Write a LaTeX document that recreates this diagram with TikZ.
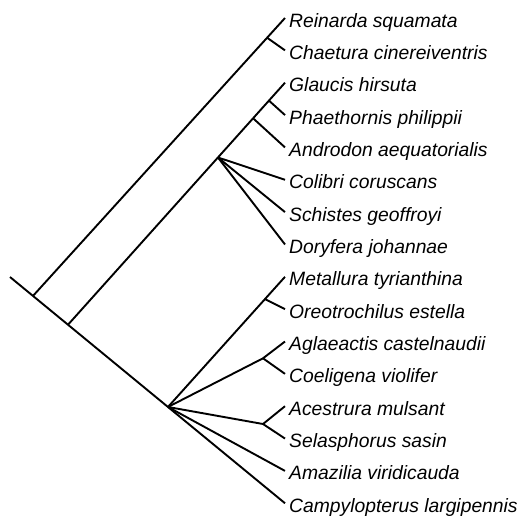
\documentclass[tikz,border=0pt]{standalone}
\usepackage{fontspec}
\setmainfont{Liberation Sans}
\usetikzlibrary{calc}
\begin{document}
\begin{tikzpicture}[x=1pt,y=-1pt,
  branch/.style={line width=1.9pt, line join=round},
  taxon/.style={anchor=base west, inner sep=0pt, font=\fontsize{19.3}{22}\selectfont\itshape}]
\useasboundingbox (0,0) rectangle (517,515);
% tips
\coordinate (t0) at (285,18);
\coordinate (t1) at (285,50.35);
\coordinate (t2) at (285,82.7);
\coordinate (t3) at (285,115.05);
\coordinate (t4) at (285,147.4);
\coordinate (t5) at (285,179.75);
\coordinate (t6) at (285,212.1);
\coordinate (t7) at (285,244.45);
\coordinate (t8) at (285,276.8);
\coordinate (t9) at (285,309.15);
\coordinate (t10) at (285,341.5);
\coordinate (t11) at (285,373.85);
\coordinate (t12) at (285,406.2);
\coordinate (t13) at (285,438.55);
\coordinate (t14) at (285,470.9);
\coordinate (t15) at (285,503.25);
% labels
\node[taxon] (l0) at (289,27) {Reinarda squamata};
\node[taxon] (l1) at (289,59.35) {Chaetura cinereiventris};
\node[taxon] (l2) at (289,91.7) {Glaucis hirsuta};
\node[taxon] (l3) at (289,124.05) {Phaethornis philippii};
\node[taxon] (l4) at (289,156.4) {Androdon aequatorialis};
\node[taxon] (l5) at (289,188.75) {Colibri coruscans};
\node[taxon] (l6) at (289,221.1) {Schistes geoffroyi};
\node[taxon] (l7) at (289,253.45) {Doryfera johannae};
\node[taxon] (l8) at (289,285.8) {Metallura tyrianthina};
\node[taxon] (l9) at (289,318.15) {Oreotrochilus estella};
\node[taxon] (l10) at (289,350.5) {Aglaeactis castelnaudii};
\node[taxon] (l11) at (289,382.85) {Coeligena violifer};
\node[taxon] (l12) at (289,415.2) {Acestrura mulsant};
\node[taxon] (l13) at (289,447.55) {Selasphorus sasin};
\node[taxon] (l14) at (289,479.9) {Amazilia viridicauda};
\node[taxon] (l15) at (289,512.25) {Campylopterus largipennis};
% internal nodes
\coordinate (root) at (10,277);
\coordinate (A) at ($(root)!0.0836!(t15)$);
\coordinate (B) at ($(root)!0.2109!(t15)$);
\coordinate (C) at ($(root)!0.5745!(t15)$);
\coordinate (rc) at ($(A)!0.929!(t0)$);
\coordinate (gp) at ($(B)!0.926!(t2)$);
\coordinate (an) at ($(B)!0.853!(t2)$);
\coordinate (D) at ($(B)!0.691!(t2)$);
\coordinate (mo) at ($(C)!0.829!(t8)$);
\coordinate (ac) at (263,358.3);
\coordinate (as) at (263,424);
% branches
\draw[branch] (root) -- (t15);
\draw[branch] (A) -- (t0);
\draw[branch] (rc) -- (t1);
\draw[branch] (B) -- (t2);
\draw[branch] (gp) -- (t3);
\draw[branch] (an) -- (t4);
\draw[branch] (D) -- (t5);
\draw[branch] (D) -- (t6);
\draw[branch] (D) -- (t7);
\draw[branch] (C) -- (t8);
\draw[branch] (mo) -- (t9);
\draw[branch] (C) -- (ac) -- (t10);
\draw[branch] (ac) -- (t11);
\draw[branch] (C) -- (as) -- (t12);
\draw[branch] (as) -- (t13);
\draw[branch] (C) -- (t14);
\end{tikzpicture}
\end{document}
